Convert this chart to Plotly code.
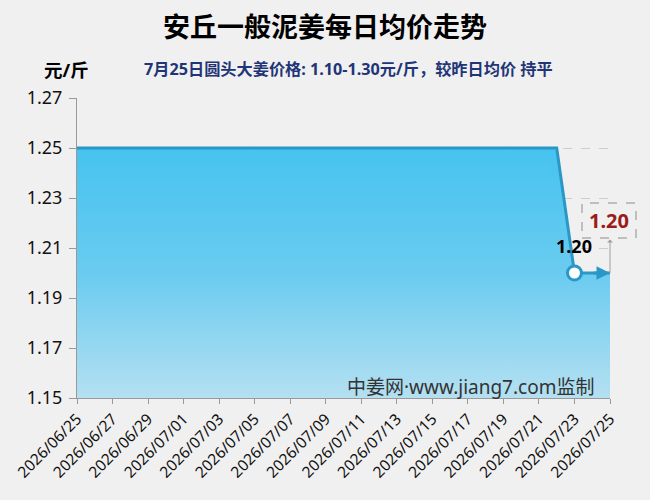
import plotly.graph_objects as go
import pandas as pd

dates = pd.date_range("2026-06-25", "2026-07-25", freq="D").strftime("%Y-%m-%d").tolist()
prices = [1.25] * 28 + [1.20, 1.20, 1.20]
marker_date = "2026-07-23"
marker_price = 1.20
last_price = 1.20
y_ticks = [1.15, 1.17, 1.19, 1.21, 1.23, 1.25, 1.27]
y_min, y_max = 1.15, 1.27

title = "安丘一般泥姜每日均价走势"
subtitle = "7月25日圆头大姜价格: 1.10-1.30元/斤，较昨日均价 持平"
unit = "元/斤"
watermark = "中姜网·www.jiang7.com监制"

FONT = "Noto Sans, Noto Sans CJK SC"
LINE = "#2a98c6"
BG = "#f0f0f0"

fig = go.Figure()
fig.add_trace(go.Scatter(
    x=dates, y=prices, mode="lines",
    line=dict(color=LINE, width=3),
    fill="tozeroy",
    fillgradient=dict(type="vertical", start=1.15, stop=1.25,
                      colorscale=[[0, "#b4e0f1"], [0.5, "#6acbf0"], [1, "#46c3ef"]]),
    hoverinfo="skip", showlegend=False,
))
fig.add_trace(go.Scatter(
    x=[marker_date], y=[marker_price], mode="markers",
    marker=dict(size=14, color="white", line=dict(color=LINE, width=3)),
    showlegend=False, hoverinfo="skip",
))
# arrowhead at end of line
fig.add_annotation(x=dates[-1], y=prices[-1], ax=dates[-2], ay=prices[-2],
                   xref="x", yref="y", axref="x", ayref="y", text="",
                   showarrow=True, arrowhead=2, arrowsize=0.9, arrowwidth=3,
                   arrowcolor=LINE, standoff=0)
# label above marker
fig.add_annotation(x=marker_date, y=marker_price, text="<b>1.20</b>", showarrow=False,
                   yshift=27, font=dict(family=FONT, size=18, color="#000"))
# boxed last value
fig.add_annotation(x=dates[-1], y=last_price, text="<b>1.20</b>", showarrow=False,
                   yshift=53, xshift=-1, yanchor="middle", xanchor="center",
                   font=dict(family=FONT, size=20, color="#9b1b1b"))
# pointer from value up to the box
fig.add_annotation(x=dates[-1], y=last_price, ax=0, ay=-35, text="",
                   showarrow=True, arrowhead=6, arrowside="start", arrowsize=1.3,
                   arrowwidth=1, arrowcolor="#a0a0a0", standoff=0, startstandoff=0)
box_y = (last_price - y_min) / (y_max - y_min)
fig.add_shape(type="rect", xref="paper", yref="paper", xsizemode="pixel", ysizemode="pixel",
              xanchor=1, yanchor=box_y, x0=-28, x1=26, y0=35, y1=70,
              line=dict(color="#8c8c8c", width=1, dash="dash"), fillcolor="rgba(0,0,0,0)")

# subtitle and unit
fig.add_annotation(x=0.509, y=1.0, xref="paper", yref="paper", yshift=29,
                   text="<b>" + subtitle + "</b>", showarrow=False, yanchor="middle",
                   xanchor="center", font=dict(family=FONT, size=16.2, color="#1f3577"))
fig.add_annotation(x=0, y=1.0, xref="paper", yref="paper", xshift=-11, yshift=29,
                   text="<b>" + unit + "</b>", showarrow=False, yanchor="middle",
                   xanchor="center", font=dict(family=FONT, size=18.5, color="#000"))
# watermark
fig.add_annotation(x=1, y=0, xref="x domain", yref="y domain", xshift=-14, yshift=11,
                   text=watermark, showarrow=False, xanchor="right", yanchor="middle",
                   font=dict(family=FONT, size=19, color="#333"))

fig.update_layout(
    width=650, height=500,
    paper_bgcolor=BG, plot_bgcolor=BG,
    margin=dict(l=74, r=40, t=98, b=102),
    font=dict(family=FONT),
    title=dict(text="<b>" + title + "</b>", x=0.5, xref="container", xanchor="center",
               y=1 - 28 / 500, yref="container", yanchor="middle",
               font=dict(family=FONT, size=27, color="#000")),
    xaxis=dict(type="date", range=[dates[0], dates[-1]],
               tick0=dates[0], dtick=2 * 86400000, tickformat="%Y/%m/%d",
               tickangle=-45, ticks="outside", ticklen=5, tickcolor="#999",
               showline=True, linecolor="#999", linewidth=1, showgrid=False,
               tickfont=dict(family=FONT, size=15.5, color="#111")),
    yaxis=dict(range=[y_min, y_max], tickvals=y_ticks, tickformat=".2f",
               ticks="outside", ticklen=7, tickcolor="#999",
               showline=True, linecolor="#999", linewidth=1,
               showgrid=True, gridcolor="#cdcdcd", griddash="dash", gridwidth=1,
               zeroline=False, ticklabelstandoff=3,
               tickfont=dict(family=FONT, size=18, color="#111")),
)

fig.write_html("out.html")
